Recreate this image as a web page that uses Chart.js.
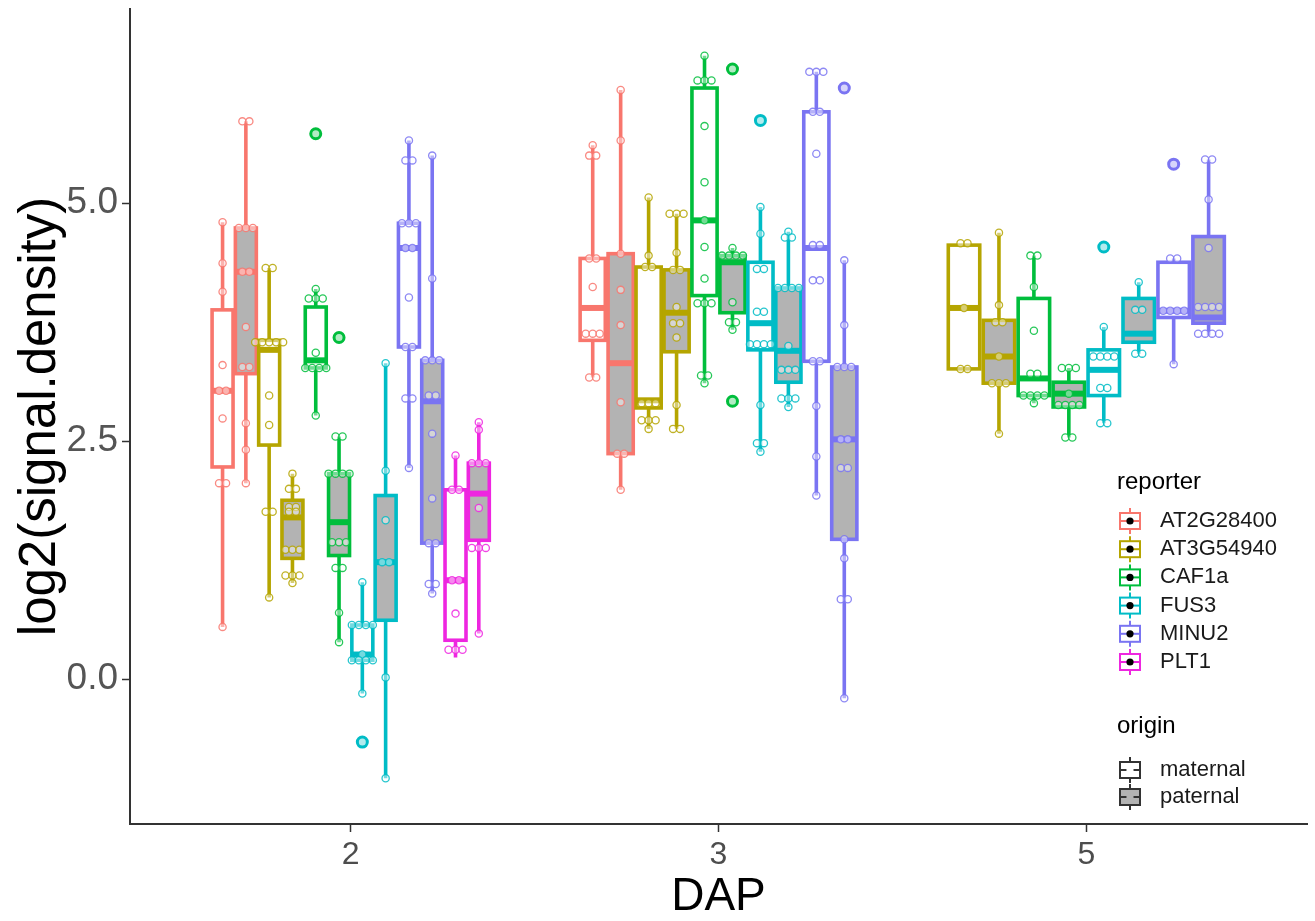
<!DOCTYPE html>
<html>
<head>
<meta charset="utf-8">
<script src="https://cdn.jsdelivr.net/npm/chart.js@4.4.1/dist/chart.umd.min.js"></script>
<style>
  html, body { margin: 0; padding: 0; background: #fff; }
  #wrap { width: 1315px; height: 921px; }
</style>
</head>
<body>
<div id="wrap"><canvas id="chart" width="1315" height="921"></canvas></div>
<script>
// ---- data ----
const dapLabels = ['2', '3', '5'];
const reporters = ['AT2G28400', 'AT3G54940', 'CAF1a', 'FUS3', 'MINU2', 'PLT1'];
const reporterColors = ['#F8766D', '#B5A500', '#00BE3C', '#00BCC6', '#7A74F2', '#EE26E0'];
const origins = ['maternal', 'paternal'];

// one entry per box (DAP index, reporter index, origin index)
const boxDap      = [0,0,0,0,0,0,0,0,0,0,0,0, 1,1,1,1,1,1,1,1,1,1, 2,2,2,2,2,2,2,2];
const boxReporter = [0,0,1,1,2,2,3,3,4,4,5,5, 0,0,1,1,2,2,3,3,4,4, 1,1,2,2,3,3,4,4];
const boxOrigin   = [0,1,0,1,0,1,0,1,0,1,0,1, 0,1,0,1,0,1,0,1,0,1, 0,1,0,1,0,1,0,1];

const boxLow  = [0.55, 2.06, 0.86, 1.01, 2.77, 0.39, -0.15, -1.04, 2.22, 0.90, 0.23, 0.48,
                 3.17, 1.99, 2.63, 2.63, 3.11, 3.67, 2.39, 2.86, 1.93, -0.20,
                 3.26, 2.58, 2.90, 2.54, 2.69, 3.42, 3.31, 3.61];
const boxQ1   = [2.23, 3.21, 2.46, 1.27, 3.27, 1.30, 0.20, 0.62, 3.49, 1.43, 0.41, 1.46,
                 3.56, 2.37, 2.85, 3.44, 4.03, 3.85, 3.46, 3.12, 3.34, 1.47,
                 3.26, 3.11, 2.98, 2.86, 2.98, 3.54, 3.80, 3.74];
const boxMed  = [3.03, 4.28, 3.46, 1.70, 3.35, 1.65, 0.26, 1.23, 4.53, 2.92, 1.04, 1.95,
                 3.90, 3.32, 2.93, 3.85, 4.82, 4.38, 3.74, 3.45, 4.53, 2.52,
                 3.90, 3.39, 3.16, 3.00, 3.25, 3.63, 3.87, 3.80];
const boxQ3   = [3.88, 4.74, 3.56, 1.88, 3.91, 2.16, 0.57, 1.93, 4.79, 3.35, 1.99, 2.27,
                 4.42, 4.47, 4.33, 4.30, 6.21, 4.45, 4.38, 4.11, 5.96, 3.28,
                 4.56, 3.77, 4.00, 3.12, 3.46, 4.00, 4.38, 4.65];
const boxHigh = [4.80, 5.86, 4.32, 2.16, 4.10, 2.55, 1.02, 3.32, 5.66, 5.50, 2.35, 2.70,
                 5.61, 6.19, 5.06, 4.89, 6.55, 4.53, 4.96, 4.70, 6.38, 4.40,
                 4.56, 4.69, 4.45, 3.27, 3.70, 4.17, 4.42, 5.46];

const boxPoints = [
  [4.80, 4.37, 4.07, 3.30, 3.03, 3.03, 2.74, 2.06, 2.06, 0.55],
  [5.86, 5.86, 4.74, 4.74, 4.74, 4.28, 4.28, 3.70, 3.28, 3.28, 2.69, 2.41, 2.06],
  [4.32, 4.32, 3.54, 3.54, 3.54, 3.54, 3.54, 2.98, 2.67, 1.76, 1.76, 0.86],
  [2.16, 2.00, 2.00, 1.81, 1.81, 1.76, 1.76, 1.36, 1.36, 1.36, 1.09, 1.09, 1.09, 1.01],
  [4.10, 4.00, 4.00, 4.00, 3.43, 3.27, 3.27, 3.27, 3.27, 2.77],
  [2.55, 2.55, 2.16, 2.16, 2.16, 2.16, 1.44, 1.44, 1.44, 1.17, 1.17, 0.70, 0.39],
  [1.02, 0.57, 0.57, 0.57, 0.57, 0.26, 0.20, 0.20, 0.20, 0.20, -0.15],
  [3.32, 2.19, 1.67, 1.23, 1.23, 0.02, -1.04],
  [5.66, 5.45, 5.45, 4.79, 4.79, 4.79, 4.53, 4.53, 4.01, 3.49, 3.49, 2.95, 2.95, 2.22],
  [5.50, 4.21, 3.35, 3.35, 3.35, 2.98, 2.98, 2.58, 1.90, 1.43, 1.43, 1.00, 1.00, 0.90],
  [2.35, 1.99, 1.99, 1.04, 1.04, 0.69, 0.31, 0.31, 0.31],
  [2.70, 2.62, 2.27, 2.27, 2.27, 1.80, 1.38, 1.38, 1.38, 0.48],
  [5.61, 5.50, 5.50, 4.42, 4.42, 4.12, 3.63, 3.63, 3.63, 3.17, 3.17],
  [6.19, 5.66, 4.47, 4.09, 3.72, 2.91, 2.37, 2.37, 1.99],
  [5.06, 4.45, 4.33, 4.33, 2.90, 2.90, 2.90, 2.72, 2.72, 2.72, 2.63],
  [4.89, 4.89, 4.89, 4.48, 4.30, 4.30, 3.91, 3.74, 3.74, 3.59, 2.88, 2.63, 2.63],
  [6.55, 6.29, 6.29, 6.29, 5.81, 5.22, 4.82, 4.54, 4.21, 3.95, 3.95, 3.95, 3.19, 3.19, 3.11],
  [4.53, 4.45, 4.45, 4.45, 4.45, 3.96, 3.75, 3.75, 3.67],
  [4.96, 4.68, 4.31, 4.31, 3.86, 3.86, 3.52, 3.52, 3.52, 3.52, 2.88, 2.48, 2.48, 2.39],
  [4.70, 4.64, 4.64, 4.11, 4.11, 4.11, 4.11, 3.50, 3.25, 3.25, 3.25, 2.95, 2.95, 2.95, 2.86],
  [6.38, 6.38, 6.38, 5.96, 5.96, 5.52, 4.56, 4.56, 4.19, 4.19, 3.34, 3.34, 2.87, 2.34, 1.93],
  [4.40, 3.72, 3.28, 3.28, 3.28, 2.52, 2.52, 2.22, 2.22, 1.47, 1.27, 0.84, 0.84, -0.20],
  [4.58, 4.58, 3.90, 3.26, 3.26],
  [4.69, 3.93, 3.75, 3.75, 3.39, 3.11, 3.11, 3.11, 2.58],
  [4.45, 4.45, 4.12, 3.66, 3.21, 3.21, 2.98, 2.98, 2.98, 2.98, 2.90],
  [3.27, 3.27, 3.27, 3.00, 2.88, 2.88, 2.88, 2.88, 2.54, 2.54],
  [3.70, 3.39, 3.39, 3.39, 3.39, 3.06, 3.06, 2.69, 2.69],
  [4.17, 3.88, 3.88, 3.42, 3.42],
  [4.42, 4.42, 3.87, 3.87, 3.87, 3.87, 3.31],
  [5.46, 5.46, 5.04, 4.53, 3.91, 3.91, 3.91, 3.91, 3.63, 3.63, 3.63, 3.63]
];

const boxOutliers = [
  [], [], [], [], [5.73], [3.59], [-0.66], [], [], [], [], [],
  [], [], [], [], [], [6.41, 2.92], [5.87], [], [], [6.21],
  [], [], [], [], [4.54], [], [5.41], []
];

const yTicks = [0, 2.5, 5];

// ---- dodge layout (ggplot style: 0.76 wide per DAP, split by boxes present) ----
const dodgeWidth = 0.76;
const boxCount = dapLabels.map((_, d) => boxDap.filter(v => v === d).length);
const boxCenters = [];
const boxWidths = [];
const seen = [0, 0, 0];
boxDap.forEach((d, i) => {
  const n = boxCount[d];
  const slot = dodgeWidth / n;
  const j = seen[d]++;
  boxCenters.push(d + 1 - dodgeWidth / 2 + (j + 0.5) * slot);
  boxWidths.push(slot * 0.9);
});

function withAlpha(hex, a) {
  const r = parseInt(hex.slice(1, 3), 16), g = parseInt(hex.slice(3, 5), 16), b = parseInt(hex.slice(5, 7), 16);
  return `rgba(${r},${g},${b},${a})`;
}

// tied values are laid side by side, like a small beeswarm
const spread = 0.019;
const datasets = [];
boxPoints.forEach((pts, i) => {
  const groups = {};
  pts.forEach(v => { groups[v] = (groups[v] || 0) + 1; });
  const used = {};
  const data = pts.map(v => {
    const m = groups[v];
    const k = used[v] = (used[v] === undefined ? 0 : used[v] + 1);
    return { x: boxCenters[i] + (k - (m - 1) / 2) * spread, y: v };
  });
  const col = reporterColors[boxReporter[i]];
  datasets.push({
    label: reporters[boxReporter[i]] + ' ' + origins[boxOrigin[i]],
    data: data,
    pointRadius: 3.6,
    pointBorderWidth: 1.3,
    pointBorderColor: withAlpha(col, 0.85),
    pointBackgroundColor: 'rgba(255,255,255,0.45)',
    order: 1
  });
});
boxOutliers.forEach((outs, i) => {
  if (!outs.length) return;
  const col = reporterColors[boxReporter[i]];
  datasets.push({
    label: 'outliers ' + i,
    data: outs.map(v => ({ x: boxCenters[i], y: v })),
    pointRadius: 5,
    pointBorderWidth: 3,
    pointBorderColor: col,
    pointBackgroundColor: withAlpha(col, 0.3),
    order: 2
  });
});

// ---- boxes, whiskers, medians ----
const boxPlugin = {
  id: 'boxes',
  beforeDatasetsDraw(chart) {
    const { ctx, scales: { x, y } } = chart;
    ctx.save();
    boxCenters.forEach((cx, i) => {
      const col = reporterColors[boxReporter[i]];
      const px = x.getPixelForValue(cx);
      const half = x.getPixelForValue(cx + boxWidths[i] / 2) - px;
      const yLow = y.getPixelForValue(boxLow[i]);
      const yQ1 = y.getPixelForValue(boxQ1[i]);
      const yMed = y.getPixelForValue(boxMed[i]);
      const yQ3 = y.getPixelForValue(boxQ3[i]);
      const yHigh = y.getPixelForValue(boxHigh[i]);
      ctx.strokeStyle = col;
      ctx.lineWidth = 3.6;
      ctx.beginPath();
      ctx.moveTo(px, yHigh); ctx.lineTo(px, yQ3);
      ctx.moveTo(px, yQ1); ctx.lineTo(px, yLow);
      ctx.stroke();
      ctx.fillStyle = boxOrigin[i] ? '#B3B3B3' : '#FFFFFF';
      ctx.fillRect(px - half, yQ3, half * 2, yQ1 - yQ3);
      ctx.strokeRect(px - half, yQ3, half * 2, yQ1 - yQ3);
      ctx.lineWidth = 6;
      ctx.beginPath();
      ctx.moveTo(px - half, yMed); ctx.lineTo(px + half, yMed);
      ctx.stroke();
    });
    ctx.restore();
  }
};

// ---- legend drawn at the right, like ggplot's guide ----
function drawKey(ctx, cx, cy, stroke, fill, dot) {
  ctx.strokeStyle = stroke;
  ctx.lineWidth = 2;
  ctx.beginPath();
  ctx.moveTo(cx, cy - 13); ctx.lineTo(cx, cy + 13);
  ctx.stroke();
  ctx.fillStyle = fill;
  ctx.fillRect(cx - 10, cy - 8, 20, 16);
  ctx.strokeRect(cx - 10, cy - 8, 20, 16);
  ctx.beginPath();
  ctx.moveTo(cx - 10, cy); ctx.lineTo(cx + 10, cy);
  ctx.stroke();
  ctx.fillStyle = dot;
  ctx.beginPath();
  ctx.arc(cx, cy, 3.6, 0, Math.PI * 2);
  ctx.fill();
}

const legendPlugin = {
  id: 'ggLegend',
  afterDraw(chart) {
    const ctx = chart.ctx;
    ctx.save();
    ctx.textBaseline = 'middle';
    ctx.textAlign = 'left';
    ctx.fillStyle = '#000';
    ctx.font = '24px "Liberation Sans", Arial, sans-serif';
    ctx.fillText('reporter', 1117, 482);
    reporters.forEach((r, i) => {
      const cy = 521 + i * 28.2;
      drawKey(ctx, 1130, cy, reporterColors[i], '#FFFFFF', '#000000');
      ctx.fillStyle = '#1A1A1A';
      ctx.font = '22px "Liberation Sans", Arial, sans-serif';
      ctx.fillText(r, 1160, cy);
    });
    ctx.fillStyle = '#000';
    ctx.font = '24px "Liberation Sans", Arial, sans-serif';
    ctx.fillText('origin', 1117, 726);
    origins.forEach((o, i) => {
      const cy = 770 + i * 27;
      drawKey(ctx, 1130, cy, '#333333', i ? '#B3B3B3' : '#FFFFFF', i ? '#B3B3B3' : '#FFFFFF');
      ctx.fillStyle = '#1A1A1A';
      ctx.font = '22px "Liberation Sans", Arial, sans-serif';
      ctx.fillText(o, 1160, cy);
    });
    ctx.restore();
  }
};

new Chart(document.getElementById('chart'), {
  type: 'scatter',
  data: { datasets: datasets },
  options: {
    responsive: false,
    animation: false,
    devicePixelRatio: 1,
    layout: { padding: { top: 9, right: 5, left: 0, bottom: 0 } },
    plugins: { legend: { display: false }, tooltip: { enabled: false } },
    scales: {
      x: {
        type: 'linear',
        min: 0.4,
        max: 3.6,
        afterBuildTicks: axis => { axis.ticks = [1, 2, 3].map(v => ({ value: v })); },
        afterFit: axis => { axis.height = 97; axis.paddingLeft = 0; axis.paddingRight = 0; },
        ticks: {
          callback: v => dapLabels[v - 1],
          font: { size: 32, family: '"Liberation Sans", Arial, sans-serif' },
          color: '#4D4D4D',
          padding: 4,
          maxRotation: 0
        },
        grid: { drawOnChartArea: false, color: '#333', tickLength: 8, tickWidth: 1.5 },
        border: { color: '#333', width: 2 },
        title: {
          display: true,
          text: 'DAP',
          font: { size: 46, family: '"Liberation Sans", Arial, sans-serif' },
          color: '#000',
          padding: { top: 0, bottom: -4 }
        }
      },
      y: {
        min: -1.52,
        max: 7.04,
        afterBuildTicks: axis => { axis.ticks = yTicks.map(v => ({ value: v })); },
        afterFit: axis => { axis.width = 130; axis.paddingTop = 0; axis.paddingBottom = 0; },
        ticks: {
          callback: v => v.toFixed(1),
          font: { size: 37, family: '"Liberation Sans", Arial, sans-serif' },
          color: '#555555',
          padding: 4
        },
        grid: { drawOnChartArea: false, color: '#333', tickLength: 8, tickWidth: 1.5 },
        border: { color: '#333', width: 2 },
        title: {
          display: true,
          text: 'log2(signal.density)',
          font: { size: 51, family: '"Liberation Sans", Arial, sans-serif' },
          color: '#000',
          padding: { top: 10, bottom: 0 }
        }
      }
    }
  },
  plugins: [boxPlugin, legendPlugin]
});
</script>
</body>
</html>
